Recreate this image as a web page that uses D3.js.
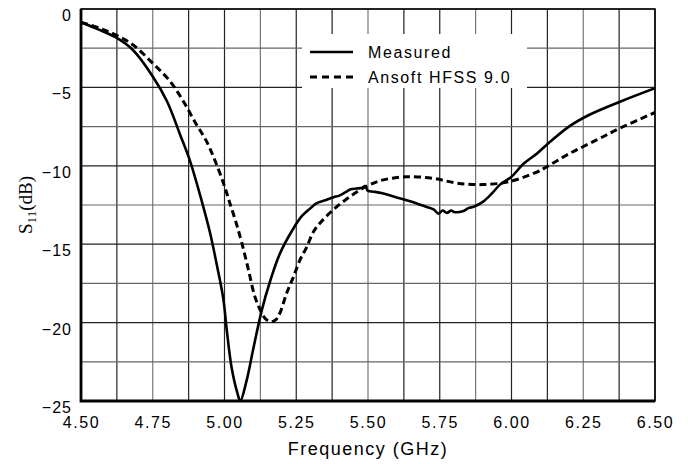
<!DOCTYPE html>
<html>
<head>
<meta charset="utf-8">
<script src="https://cdn.jsdelivr.net/npm/d3@7"></script>
<style>
body { margin: 0; background: #fff; }
svg { display: block; }
</style>
</head>
<body>
<div id="chart"></div>
<script>
// values
var measuredFreq = [4.50, 4.56, 4.62, 4.68, 4.75, 4.80, 4.845, 4.88, 4.92, 4.95, 4.973, 4.996, 5.008, 5.025, 5.045, 5.055,
	5.077, 5.10, 5.13, 5.16, 5.193, 5.24, 5.27, 5.30, 5.32, 5.35, 5.38, 5.40, 5.42, 5.44, 5.46, 5.48, 5.49, 5.50, 5.52,
	5.55, 5.61, 5.67, 5.70, 5.73, 5.745, 5.76, 5.775, 5.79, 5.80, 5.83, 5.85, 5.87, 5.90, 5.93, 5.96, 6.00, 6.04, 6.09,
	6.12, 6.20, 6.27, 6.38, 6.50];
var measuredS11 = [-0.85, -1.3, -1.8, -2.6, -4.3, -5.9, -8.0, -9.7, -12.2, -14.3, -16.3, -18.5, -20.5, -22.9, -24.5, -25.0,
	-23.7, -21.7, -19.2, -17.3, -15.6, -14.0, -13.2, -12.7, -12.4, -12.2, -12.0, -11.9, -11.7, -11.5, -11.45, -11.4, -11.3, -11.6, -11.65,
	-11.75, -12.07, -12.4, -12.6, -12.8, -13.05, -12.85, -13.0, -12.85, -12.95, -12.9, -12.7, -12.6, -12.3, -11.8, -11.2, -10.7, -9.9, -9.2,
	-8.7, -7.5, -6.76, -5.9, -5.05];

var hfssFreq = [4.50, 4.566, 4.622, 4.682, 4.75, 4.81, 4.857, 4.897, 4.938, 4.973, 5.0, 5.019, 5.04, 5.06, 5.083, 5.106, 5.13,
	5.145, 5.164, 5.18, 5.193, 5.217, 5.24, 5.263, 5.286, 5.31, 5.333, 5.379, 5.437, 5.495, 5.553, 5.634, 5.727, 5.808,
	5.90, 5.995, 6.088, 6.123, 6.204, 6.297, 6.378, 6.50];
var hfssS11 = [-0.85, -1.23, -1.66, -2.3, -3.46, -4.6, -5.9, -7.2, -8.46, -9.95, -11.3, -12.4, -13.6, -14.9, -16.6, -18.35, -19.4,
	-19.8, -19.95, -19.8, -19.4, -18.1, -17.1, -16.0, -15.2, -14.2, -13.65, -12.8, -11.97, -11.3, -10.9, -10.7, -10.8, -11.1,
	-11.2, -11.0, -10.4, -10.06, -9.2, -8.35, -7.6, -6.6];

var xTicks = [4.50, 4.75, 5.00, 5.25, 5.50, 5.75, 6.00, 6.25, 6.50];
var xGrid = d3.range(4.5, 6.5001, 0.125);
var yTicks = [0, -5, -10, -15, -20, -25];
var yGrid = d3.range(0, -25.001, -2.5);
var legendNames = ["Measured", "Ansoft HFSS 9.0"];

var W = 688, H = 464;
var pLeft = 81, pRight = 655, pTop = 9, pBottom = 401;

var svg = d3.select("#chart").append("svg")
	.attr("width", W)
	.attr("height", H);

var x = d3.scaleLinear().domain([4.5, 6.5]).range([pLeft, pRight]);
var y = d3.scaleLinear().domain([0, -25]).range([pTop, pBottom]);

svg.append("clipPath")
	.attr("id", "plotclip")
	.append("rect")
	.attr("x", pLeft)
	.attr("y", pTop)
	.attr("width", pRight - pLeft)
	.attr("height", pBottom - pTop + 1);

//grid
svg.selectAll("line.vg")
	.data(xGrid)
	.enter()
	.append("line")
	.attr("class", "vg")
	.attr("x1", function(d){return x(d);})
	.attr("x2", function(d){return x(d);})
	.attr("y1", pTop)
	.attr("y2", pBottom)
	.attr("stroke", function(d, i){return i % 3 == 2 ? "#777" : "#222";})
	.attr("stroke-width", 1.2);

svg.selectAll("line.hg")
	.data(yGrid)
	.enter()
	.append("line")
	.attr("class", "hg")
	.attr("x1", pLeft)
	.attr("x2", pRight)
	.attr("y1", function(d){return y(d);})
	.attr("y2", function(d){return y(d);})
	.attr("stroke", function(d, i){return i % 2 == 1 ? "#666" : "#222";})
	.attr("stroke-width", 1.2);

//legend box covers the grid
svg.append("rect")
	.attr("x", 302)
	.attr("y", 34)
	.attr("width", 225)
	.attr("height", 54)
	.attr("fill", "#fff");

//curves
var line = d3.line()
	.x(function(d){return x(d[0]);})
	.y(function(d){return y(d[1]);})
	.curve(d3.curveCatmullRom.alpha(0.5));

var measured = d3.zip(measuredFreq, measuredS11);
var hfss = d3.zip(hfssFreq, hfssS11);

var curves = svg.append("g").attr("clip-path", "url(#plotclip)");

curves.append("path")
	.datum(hfss)
	.attr("d", line)
	.attr("fill", "none")
	.attr("stroke", "#000")
	.attr("stroke-width", 3)
	.attr("stroke-dasharray", "7,4");

curves.append("path")
	.datum(measured)
	.attr("d", line)
	.attr("fill", "none")
	.attr("stroke", "#000")
	.attr("stroke-width", 2.6);

//frame
svg.append("rect")
	.attr("x", pLeft)
	.attr("y", pTop)
	.attr("width", pRight - pLeft)
	.attr("height", pBottom - pTop)
	.attr("fill", "none")
	.attr("stroke", "#000")
	.attr("stroke-width", 1.5);
svg.append("path")
	.attr("d", "M" + pLeft + "," + pTop + "V" + pBottom + "H" + pRight)
	.attr("fill", "none")
	.attr("stroke", "#000")
	.attr("stroke-width", 2.8);

//axes
var xAxis = svg.append("g")
	.attr("transform", "translate(0," + pBottom + ")")
	.call(d3.axisBottom(x).tickValues(xTicks).tickSize(0).tickPadding(0).tickFormat(d3.format(".2f")));
xAxis.select(".domain").remove();
xAxis.selectAll("text")
	.attr("y", 27)
	.attr("dy", null)
	.attr("fill", "#000")
	.style("font-family", "Liberation Sans, Arial, sans-serif")
	.style("font-size", "16px")
	.style("letter-spacing", "1.6px");

var yAxis = svg.append("g")
	.attr("transform", "translate(" + pLeft + ",0)")
	.call(d3.axisLeft(y).tickValues(yTicks).tickSize(0).tickPadding(9));
yAxis.select(".domain").remove();
yAxis.selectAll("text")
	.attr("dy", null)
	.attr("y", 11.5)
	.attr("fill", "#000")
	.style("font-family", "Liberation Sans, Arial, sans-serif")
	.style("font-size", "16px")
	.style("letter-spacing", "1px");

//titles
svg.append("text")
	.attr("x", (pLeft + pRight) / 2)
	.attr("y", 455)
	.attr("text-anchor", "middle")
	.style("font-family", "Liberation Sans, Arial, sans-serif")
	.style("font-size", "18px")
	.style("letter-spacing", "1.5px")
	.text("Frequency (GHz)");

var yt = svg.append("text")
	.attr("transform", "translate(32," + ((pTop + pBottom) / 2) + ") rotate(-90)")
	.attr("text-anchor", "middle")
	.style("font-family", "Liberation Serif, Times New Roman, serif")
	.style("font-size", "19px");
yt.append("tspan").text("S");
yt.append("tspan").attr("dy", 4).style("font-size", "13px").text("11");
yt.append("tspan").attr("dy", -4).text("(dB)");

//legend
var leg = svg.selectAll("g.leg")
	.data(legendNames)
	.enter()
	.append("g")
	.attr("class", "leg")
	.attr("transform", function(d, i){return "translate(310," + (52 + i * 25) + ")";});

leg.append("line")
	.attr("x1", 0)
	.attr("x2", 43)
	.attr("stroke", "#000")
	.attr("stroke-width", function(d, i){return i ? 3 : 2.6;})
	.attr("stroke-dasharray", function(d, i){return i ? "7,5" : null;});

leg.append("text")
	.attr("x", 58)
	.attr("y", 5.5)
	.style("font-family", "Liberation Sans, Arial, sans-serif")
	.style("font-size", "16px")
	.style("letter-spacing", "1.6px")
	.text(function(d){return d;});
</script>
</body>
</html>
